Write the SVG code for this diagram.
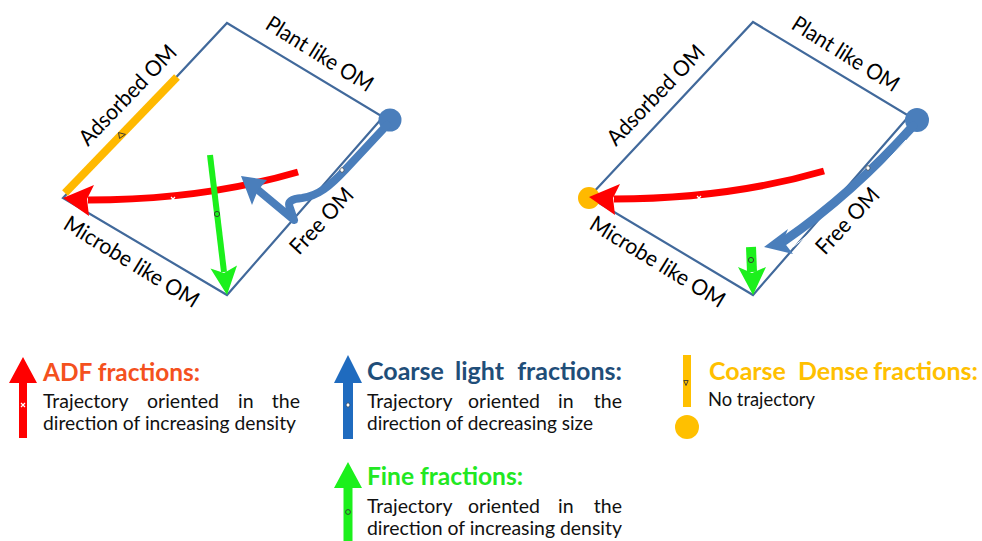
<svg xmlns="http://www.w3.org/2000/svg" width="982" height="541" viewBox="0 0 982 541">
<style>
.edge{fill:none;stroke:#41699B;stroke-width:2.2}
.lbl{font-family:Lato,"Open Sans","Liberation Sans",sans-serif;font-size:22px;fill:#000}
.body{font-family:Lato,"Open Sans","Liberation Sans",sans-serif;font-size:19.5px;fill:#111}
.ttl{font-family:Lato,"Open Sans","Liberation Sans",sans-serif;font-size:25px;font-weight:bold}
.red{fill:none;stroke:#FF0000;stroke-width:7}
.blu{fill:none;stroke:#4A7EBB;stroke-width:8;stroke-linecap:round;stroke-linejoin:round}
.grn{fill:none;stroke:#1CF01C;stroke-width:6}
.xm{stroke:#fff;stroke-width:1.2}
.dm{fill:#fff;stroke:#333;stroke-width:0.6}
.cm{fill:none;stroke:#333;stroke-width:0.9}
.tm{fill:none;stroke:#333;stroke-width:0.9}
</style>

<!-- Left diagram -->
<g id="diagram-left">
  <path class="edge" d="M227,23 L383,117 L227,295 L63,198 Z"/>
  <text class="lbl" transform="translate(264,28) rotate(32)" textLength="122" lengthAdjust="spacingAndGlyphs">Plant like OM</text>
  <text class="lbl" transform="translate(88,147) rotate(-46)" textLength="130" lengthAdjust="spacingAndGlyphs">Adsorbed OM</text>
  <text class="lbl" transform="translate(62,228) rotate(31.5)" textLength="154" lengthAdjust="spacingAndGlyphs">Microbe like OM</text>
  <text class="lbl" transform="translate(299,256) rotate(-47)" textLength="82" lengthAdjust="spacingAndGlyphs">Free OM</text>
</g>

<!-- Right diagram -->
<g id="diagram-right">
  <path class="edge" d="M753,22 L909,116 L753,295 L589,197 Z"/>
  <text class="lbl" transform="translate(790,28) rotate(32)" textLength="122" lengthAdjust="spacingAndGlyphs">Plant like OM</text>
  <text class="lbl" transform="translate(616,147) rotate(-46)" textLength="130" lengthAdjust="spacingAndGlyphs">Adsorbed OM</text>
  <text class="lbl" transform="translate(588,228) rotate(31.5)" textLength="154" lengthAdjust="spacingAndGlyphs">Microbe like OM</text>
  <text class="lbl" transform="translate(825,256) rotate(-47)" textLength="82" lengthAdjust="spacingAndGlyphs">Free OM</text>
</g>

<g id="connectors">
  <!-- left: coarse dense (yellow bar) -->
  <g id="left-coarse-dense">
    <line x1="177" y1="77" x2="65" y2="193" stroke="#FFB900" stroke-width="8"/>
    <path class="tm" transform="translate(122,135) rotate(-10)" d="M-3,-3 L3.5,0 L-3,3 Z"/>
  </g>
  <!-- left: ADF (red) -->
  <g id="left-adf">
    <path class="red" d="M298,172 C250,186 180,200 88,200"/>
    <polygon fill="#FF0000" points="63,198 94,185 87,199 89,216"/>
    <path class="xm" d="M171,197 L175,201 M175,197 L171,201"/>
  </g>
  <!-- left: fine (green) -->
  <g id="left-fine">
    <line class="grn" x1="210" y1="155" x2="224" y2="272"/>
    <polygon fill="#1CF01C" points="227,295 210.5,268.5 224,273 237,265.5"/>
    <circle class="cm" cx="217" cy="214" r="2.6"/>
  </g>
  <!-- left: coarse light (blue) -->
  <g id="left-coarse-light">
    <circle cx="390" cy="120" r="11.5" fill="#4A7EBB"/>
    <path class="blu" d="M387,125 L345,170 C330,186 318,196 302,198 C292,199 287,201 290,208 L294,220 L258,190"/>
    <polygon fill="#4A7EBB" points="241,176 267,180 258,190 252,205"/>
    <path class="dm" transform="translate(342,170)" d="M0,-2.8 L2.4,0 L0,2.8 L-2.4,0 Z"/>
  </g>

  <!-- right: coarse dense (yellow dot) -->
  <circle id="right-coarse-dense" cx="589" cy="198" r="11" fill="#FFB900"/>
  <!-- right: ADF -->
  <g id="right-adf">
    <path class="red" d="M824,171 C776,185 706,199 614,199"/>
    <polygon fill="#FF0000" points="589,197 620,184 613,198 615,215"/>
    <path class="xm" d="M697,196 L701,200 M701,196 L697,200"/>
  </g>
  <!-- right: fine -->
  <g id="right-fine">
    <line x1="751" y1="247" x2="752" y2="272" stroke="#1CF01C" stroke-width="10"/>
    <polygon fill="#1CF01C" points="753,295 738,267 752,273 766,267"/>
    <circle class="cm" cx="751" cy="260" r="2.6"/>
  </g>
  <!-- right: coarse light -->
  <g id="right-coarse-light">
    <circle cx="917" cy="120" r="12" fill="#4A7EBB"/>
    <path d="M913,126 Q852,194 784,241" fill="none" stroke="#4A7EBB" stroke-width="9" stroke-linecap="round"/>
    <path d="M906,140 Q851,202 793,247" fill="none" stroke="#fff" stroke-width="1"/>
    <polygon fill="#4A7EBB" points="764,247 788,229 783,241 793,254"/>
    <path class="dm" transform="translate(868,168)" d="M0,-2.8 L2.4,0 L0,2.8 L-2.4,0 Z"/>
  </g>
</g>

<!-- Legend -->
<g id="legend-adf">
  <polygon fill="#FF0000" points="23,357 37,383 27,383 27,438 19,438 19,383 9,383"/>
  <path class="xm" d="M21,403 L25,407 M25,403 L21,407"/>
  <text class="ttl" x="43" y="381" fill="#F4511E" textLength="157" lengthAdjust="spacingAndGlyphs">ADF fractions:</text>
  <text class="body" y="408"><tspan x="43">Trajectory</tspan><tspan x="147">oriented</tspan><tspan x="238">in</tspan></text>
  <text class="body" x="300" y="408" text-anchor="end">the</text>
  <text class="body" x="43" y="430" textLength="253" lengthAdjust="spacingAndGlyphs">direction of increasing density</text>
</g>

<g id="legend-coarse-light">
  <polygon fill="#1F6BBF" points="348,355 362,383 353,383 353,439 343,439 343,383 334,383"/>
  <path class="dm" transform="translate(348,405)" d="M0,-2.6 L2.2,0 L0,2.6 L-2.2,0 Z"/>
  <text class="ttl" y="380" fill="#1F4E79"><tspan x="367">Coarse</tspan><tspan x="455">light</tspan></text>
  <text class="ttl" x="622" y="380" fill="#1F4E79" text-anchor="end">fractions:</text>
  <text class="body" y="408"><tspan x="367">Trajectory</tspan><tspan x="468">oriented</tspan><tspan x="558">in</tspan></text>
  <text class="body" x="622" y="408" text-anchor="end">the</text>
  <text class="body" x="367" y="430" textLength="226" lengthAdjust="spacingAndGlyphs">direction of decreasing size</text>
</g>

<g id="legend-fine">
  <polygon fill="#1CF01C" points="348,462 362,488 352.5,488 352.5,541 343.5,541 343.5,488 334,488"/>
  <circle class="cm" cx="348" cy="512" r="2.4"/>
  <text class="ttl" x="367" y="485" fill="#22E822" textLength="156" lengthAdjust="spacingAndGlyphs">Fine fractions:</text>
  <text class="body" y="513"><tspan x="367">Trajectory</tspan><tspan x="468">oriented</tspan><tspan x="558">in</tspan></text>
  <text class="body" x="622" y="513" text-anchor="end">the</text>
  <text class="body" x="367" y="535" textLength="255" lengthAdjust="spacingAndGlyphs">direction of increasing density</text>
</g>

<g id="legend-coarse-dense">
  <rect x="683" y="355" width="8" height="52" fill="#FFC000"/>
  <path class="tm" d="M683.8,380.5 L688.2,380.5 L686,385.5 Z"/>
  <circle cx="687" cy="427" r="12" fill="#FFC000"/>
  <text class="ttl" y="380" fill="#FFC000"><tspan x="709">Coarse</tspan><tspan x="798">Dense</tspan></text>
  <text class="ttl" x="978" y="380" fill="#FFC000" text-anchor="end">fractions:</text>
  <text class="body" x="708" y="406" textLength="107" lengthAdjust="spacingAndGlyphs">No trajectory</text>
</g>
</svg>
